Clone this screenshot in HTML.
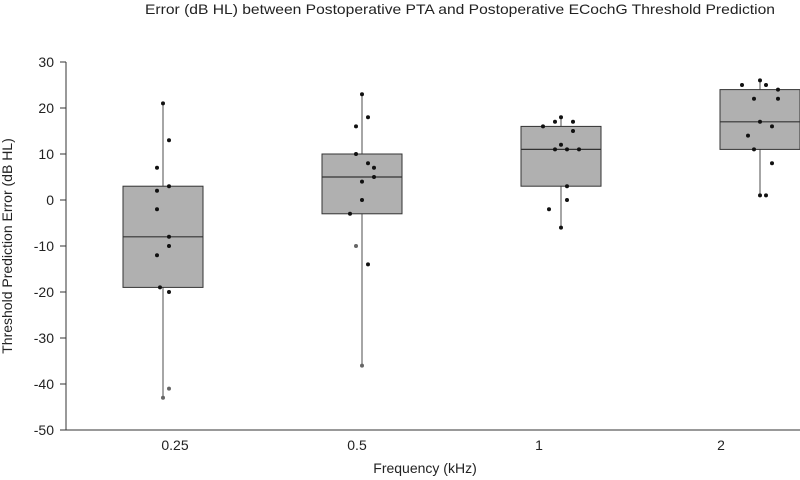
<!DOCTYPE html>
<html><head><meta charset="utf-8"><style>
body{margin:0;background:#fff}
svg{display:block;font-family:"Liberation Sans",sans-serif}
</style></head><body>
<svg id="c" width="800" height="480">
<text x="145" y="14" textLength="630" lengthAdjust="spacingAndGlyphs" font-size="14" fill="#222">Error (dB HL) between Postoperative PTA and Postoperative ECochG Threshold Prediction</text>
<text transform="translate(12,246) rotate(-90)" text-anchor="middle" font-size="14" fill="#222">Threshold Prediction Error (dB HL)</text>
<text x="425" y="473" text-anchor="middle" font-size="14" fill="#222">Frequency (kHz)</text>
</svg>
<script>
const categories=["0.25","0.5","1","2"];
const q1=[-19,-3,3,11];
const median=[-8,5,11,17];
const q3=[3,10,16,24];
const whiskerLow=[-43,-36,-6,1];
const whiskerHigh=[21,23,18,26];
const points0=[21,13,7,3,2,-2,-8,-10,-12,-19,-20,-41,-43];
const jitter0=[0,1,-1,1,-1,-1,1,1,-1,-0.5,1,1,0];
const points1=[23,18,16,10,8,7,5,4,0,-3,-10,-14,-36];
const jitter1=[0,1,-1,-1,1,2,2,0,0,-2,-1,1,0];
const points2=[18,17,17,16,15,12,11,11,11,3,0,-2,-6];
const jitter2=[0,-1,2,-3,2,0,-1,1,3,1,1,-2,0];
const points3=[26,25,25,24,22,22,17,16,14,11,8,1,1];
const jitter3=[0,-3,1,3,-1,3,0,2,-2,-1,2,0,1];
const yTicks=[30,20,10,0,-10,-20,-30,-40,-50];
const allPoints=[points0,points1,points2,points3];
const allJitter=[jitter0,jitter1,jitter2,jitter3];
const NS="http://www.w3.org/2000/svg";
const svg=document.getElementById('c');
const y=v=>200-v*4.6;
const xc=i=>163+i*199;
const labelX=i=>175+i*182;
function mk(t,a){const e=document.createElementNS(NS,t);for(const k in a)e.setAttribute(k,a[k]);svg.appendChild(e);return e;}
let e=mk('line',{x1:66,y1:y(30),x2:66,y2:y(-50),stroke:'#333'});


e=mk('line',{x1:66,y1:y(-50),x2:800,y2:y(-50),stroke:'#333'});


yTicks.forEach(v=>{
  const t=mk('line',{x1:60,y1:y(v),x2:66,y2:y(v),stroke:'#333'});
  
  
  const l=mk('text',{x:54,y:y(v)+5,'text-anchor':'end','font-size':14,fill:'#222'});
  l.textContent=v;
  
  
});
categories.forEach((c,i)=>{
  const cx=xc(i);
  const w=mk('line',{x1:cx,y1:y(whiskerHigh[i]),x2:cx,y2:y(whiskerLow[i]),stroke:'#777','stroke-width':1.3});
  
  
  const b=mk('rect',{x:cx-40,y:y(q3[i]),width:80,height:y(q1[i])-y(q3[i]),fill:'#b0b0b0',stroke:'#333','stroke-width':1});
  
  
  const m=mk('line',{x1:cx-40,y1:y(median[i]),x2:cx+40,y2:y(median[i]),stroke:'#333','stroke-width':1.2});
  
  
  allPoints[i].forEach((v,j)=>{
    const p=mk('circle',{cx:cx+allJitter[i][j]*6,cy:y(v),r:2,fill:(v<-25||v==-10&&i==1)?'#666':'#111'});
    
    
  });
  const l=mk('text',{x:labelX(i),y:y(-50)+20,'text-anchor':'middle','font-size':14,fill:'#222'});
  l.textContent=c;
  
  
});
</script>
</body></html>
